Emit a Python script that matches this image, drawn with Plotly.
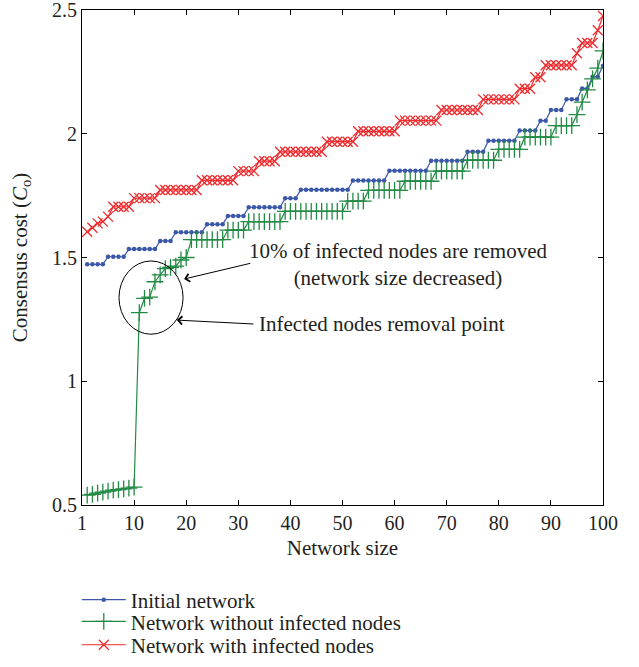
import plotly.graph_objects as go

# Network size (x) and consensus cost for the three cases
network_size = list(range(1, 101))

initial_network = (
    [1.4725] * 4 + [1.503] * 4 + [1.534] * 6 + [1.567] * 3 + [1.602] * 6 +
    [1.634] * 4 + [1.668] * 4 + [1.703] * 7 + [1.739] * 3 + [1.774] * 10 +
    [1.811] * 7 + [1.851] * 8 + [1.891] * 7 + [1.927] * 4 + [1.972] * 6 +
    [2.013] * 4 + [2.053] * 2 + [2.096] * 3 + [2.139] * 3 + [2.183] * 2 +
    [2.23] * 2 + [2.275]
)

without_infected = (
    [0.540, 0.543, 0.548, 0.552, 0.556, 0.560, 0.562, 0.565, 0.568, 0.572,
     1.277, 1.335, 1.340, 1.402, 1.430, 1.455, 1.460, 1.465, 1.490, 1.500] +
    [1.572] * 7 + [1.611] * 4 + [1.645] * 7 + [1.686] * 12 + [1.728] * 4 +
    [1.771] * 7 + [1.808] * 6 + [1.849] * 6 + [1.893] * 6 + [1.937] * 5 +
    [1.986] * 6 + [2.033] * 4 +
    [2.077, 2.128, 2.177, 2.222, 2.265, 2.335]
)

with_infected = (
    [1.604, 1.620, 1.638, 1.645, 1.665] +
    [1.705] * 4 + [1.740] * 5 + [1.773] * 8 + [1.812] * 7 + [1.849] * 4 +
    [1.889] * 4 + [1.927] * 9 + [1.968] * 6 + [2.010] * 8 + [2.053] * 8 +
    [2.096] * 8 + [2.139] * 7 + [2.182] * 3 + [2.228] * 2 + [2.277] * 6 +
    [2.325] + [2.367] * 3 + [2.418] + [2.476]
)

x_tick_vals = [0, 10, 20, 30, 40, 50, 60, 70, 80, 90, 100]
x_tick_text = ["1", "10", "20", "30", "40", "50", "60", "70", "80", "90", "100"]
y_tick_vals = [0.5, 1, 1.5, 2, 2.5]
y_tick_text = ["0.5", "1", "1.5", "2", "2.5"]

FONT = "Liberation Serif"
TXT = "#231f20"
BLUE = "#3b57a7"
GREEN = "#238a45"
RED = "#ee2b2e"
FS = 21

fig = go.Figure()

fig.add_trace(go.Scatter(
    x=network_size, y=initial_network, mode="lines+markers",
    name="Initial network", legend="legend",
    line=dict(color=BLUE, width=1.2),
    marker=dict(symbol="circle", size=4.5, color=BLUE),
))
fig.add_trace(go.Scatter(
    x=network_size, y=without_infected, mode="lines+markers",
    name="Network without infected nodes", legend="legend2",
    line=dict(color=GREEN, width=1.2),
    marker=dict(symbol="cross-thin", size=12, color=GREEN,
                line=dict(color=GREEN, width=1.3)),
))
fig.add_trace(go.Scatter(
    x=network_size, y=with_infected, mode="lines+markers",
    name="Network with infected nodes", legend="legend3",
    line=dict(color=RED, width=1.2),
    marker=dict(symbol="x-thin", size=10, color=RED,
                line=dict(color=RED, width=1.3)),
))

# Ellipse around the removal point
fig.add_shape(type="circle", xref="x", yref="y",
              x0=7.1, x1=19.4, y0=1.19, y1=1.486,
              line=dict(color="black", width=1))

# Callouts
fig.add_annotation(x=19.6, y=1.413, ax=32.6, ay=1.478, xref="x", yref="y",
                   axref="x", ayref="y", text="", showarrow=True,
                   arrowhead=4, arrowsize=1.6, arrowwidth=1, arrowcolor="black")
fig.add_annotation(x=18.2, y=1.247, ax=33.2, ay=1.231, xref="x", yref="y",
                   axref="x", ayref="y", text="", showarrow=True,
                   arrowhead=4, arrowsize=1.6, arrowwidth=1, arrowcolor="black")
fig.add_annotation(x=60.6, y=1.47, xref="x", yref="y", showarrow=False,
                   text="10% of infected nodes are removed<br>(network size decreased)",
                   align="center", font=dict(family=FONT, size=FS, color=TXT))
fig.add_annotation(x=33.6, y=1.231, xref="x", yref="y", showarrow=False,
                   xanchor="left",
                   text="Infected nodes removal point",
                   font=dict(family=FONT, size=FS, color=TXT))

axis_common = dict(
    showline=True, linecolor="black", linewidth=1.2, mirror="ticks",
    ticks="inside", ticklen=5, tickwidth=1, tickcolor="black",
    showgrid=False, zeroline=False, automargin=False,
    ticklabeloverflow="allow",
    tickfont=dict(family=FONT, size=20, color=TXT),
)

legend_common = dict(x=-0.01, xanchor="left", yanchor="middle",
                     orientation="v", bgcolor="rgba(0,0,0,0)",
                     font=dict(family=FONT, size=FS, color=TXT),
                     itemwidth=44)

fig.update_layout(
    width=639, height=667,
    margin=dict(l=82, r=36, t=10, b=162, autoexpand=False),
    paper_bgcolor="white", plot_bgcolor="white",
    font=dict(family=FONT, size=FS, color=TXT),
    xaxis=dict(range=[0, 100], tickvals=x_tick_vals, ticktext=x_tick_text,
               title=dict(text="Network size", standoff=7,
                          font=dict(family=FONT, size=FS, color=TXT)),
               **axis_common),
    yaxis=dict(range=[0.5, 2.5], tickvals=y_tick_vals, ticktext=y_tick_text,
               title=dict(text="Consensus cost (<i>C</i><sub>o</sub>)", standoff=18,
                          font=dict(family=FONT, size=FS, color=TXT)),
               **axis_common),
    showlegend=True,
    legend=dict(y=-0.192, **legend_common),
    legend2=dict(y=-0.236, **legend_common),
    legend3=dict(y=-0.283, **legend_common),
)

fig.write_html("out.html")
